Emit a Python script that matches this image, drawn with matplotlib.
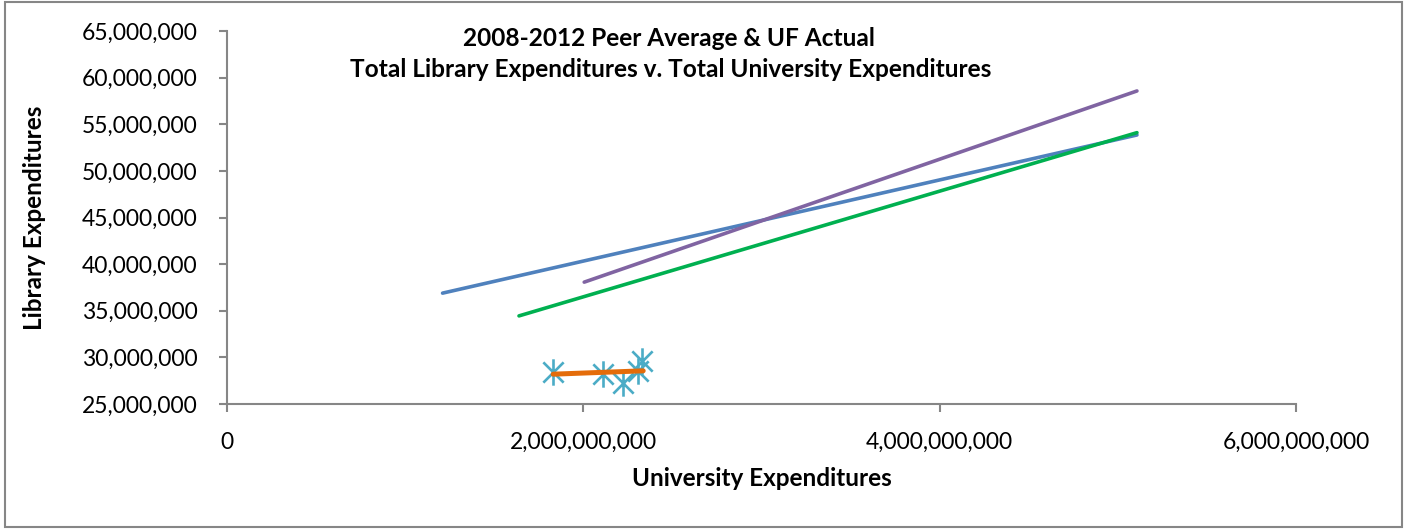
import matplotlib
matplotlib.use("Agg")
import matplotlib.pyplot as plt
from matplotlib.path import Path
from matplotlib.patches import Rectangle
from matplotlib.ticker import FuncFormatter

plt.rcParams['font.family'] = ['Lato', 'DejaVu Sans']

# trend lines (university expenditures, library expenditures)
peer_blue_x = [1.21e9, 5.107e9]
peer_blue_y = [36.89e6, 53.85e6]
peer_purple_x = [2.005e9, 5.107e9]
peer_purple_y = [38.07e6, 58.57e6]
peer_green_x = [1.639e9, 5.107e9]
peer_green_y = [34.45e6, 54.1e6]
uf_trend_x = [1.831e9, 2.336e9]
uf_trend_y = [28.2e6, 28.56e6]

# UF actual points
uf_x = [1.831e9, 2.112e9, 2.221e9, 2.305e9, 2.331e9]
uf_y = [28.48e6, 28.2e6, 27.24e6, 28.59e6, 29.56e6]

x_ticks = [0, 2e9, 4e9, 6e9]
y_ticks = [25e6, 30e6, 35e6, 40e6, 45e6, 50e6, 55e6, 60e6, 65e6]

# excel style star marker: X plus vertical bar
star = Path(
    [(-1, -1), (1, 1), (-1, 1), (1, -1), (0, -1.3), (0, 1.3)],
    [Path.MOVETO, Path.LINETO, Path.MOVETO, Path.LINETO, Path.MOVETO, Path.LINETO],
)

fig = plt.figure(figsize=(14.14, 5.3), dpi=100)
ax = fig.add_axes([0.1605, 0.2377, 0.7561, 0.7038])

ax.plot(peer_blue_x, peer_blue_y, color='#4F81BD', lw=2.6, solid_capstyle='round')
ax.plot(peer_purple_x, peer_purple_y, color='#8064A2', lw=2.6, solid_capstyle='round')
ax.plot(peer_green_x, peer_green_y, color='#00B050', lw=2.6, solid_capstyle='round')
ax.plot(uf_x, uf_y, linestyle='none', marker=star, markersize=19,
        markeredgecolor='#4BACC6', markerfacecolor='none', markeredgewidth=1.9)
ax.plot(uf_trend_x, uf_trend_y, color='#E46C0A', lw=3.6, solid_capstyle='round')

ax.set_xlim(0, 6e9)
ax.set_ylim(25e6, 65e6)
ax.set_xticks(x_ticks)
ax.set_yticks(y_ticks)
ax.xaxis.set_major_formatter(FuncFormatter(lambda v, p: '0' if v == 0 else f'{v:,.0f}'))
ax.yaxis.set_major_formatter(FuncFormatter(lambda v, p: f'{v:,.0f}'))

for side in ['top', 'right']:
    ax.spines[side].set_visible(False)
for side in ['left', 'bottom']:
    ax.spines[side].set_color('#868686')
    ax.spines[side].set_linewidth(1.5)
ax.tick_params(axis='both', colors='#868686', length=6, width=1.5,
               labelcolor='black', labelsize=16.5)
ax.tick_params(axis='y', pad=15)
ax.tick_params(axis='x', pad=14)

ax.set_xlabel('University Expenditures', fontsize=17.5, fontweight='bold', labelpad=10)
ax.set_ylabel('Library Expenditures', fontsize=17.5, fontweight='bold', labelpad=26)

fig.text(0.473, 0.928, '2008-2012 Peer Average & UF Actual', ha='center', va='center',
         fontsize=17.6, fontweight='bold')
fig.text(0.4745, 0.868, 'Total Library Expenditures v. Total University Expenditures',
         ha='center', va='center', fontsize=17.6, fontweight='bold')

# chart area border
fig.patches.append(Rectangle((0.0035, 0.006), 0.988, 0.99, transform=fig.transFigure,
                             fill=False, edgecolor='#868686', linewidth=1.5))

fig.savefig('out.png', dpi=100)
